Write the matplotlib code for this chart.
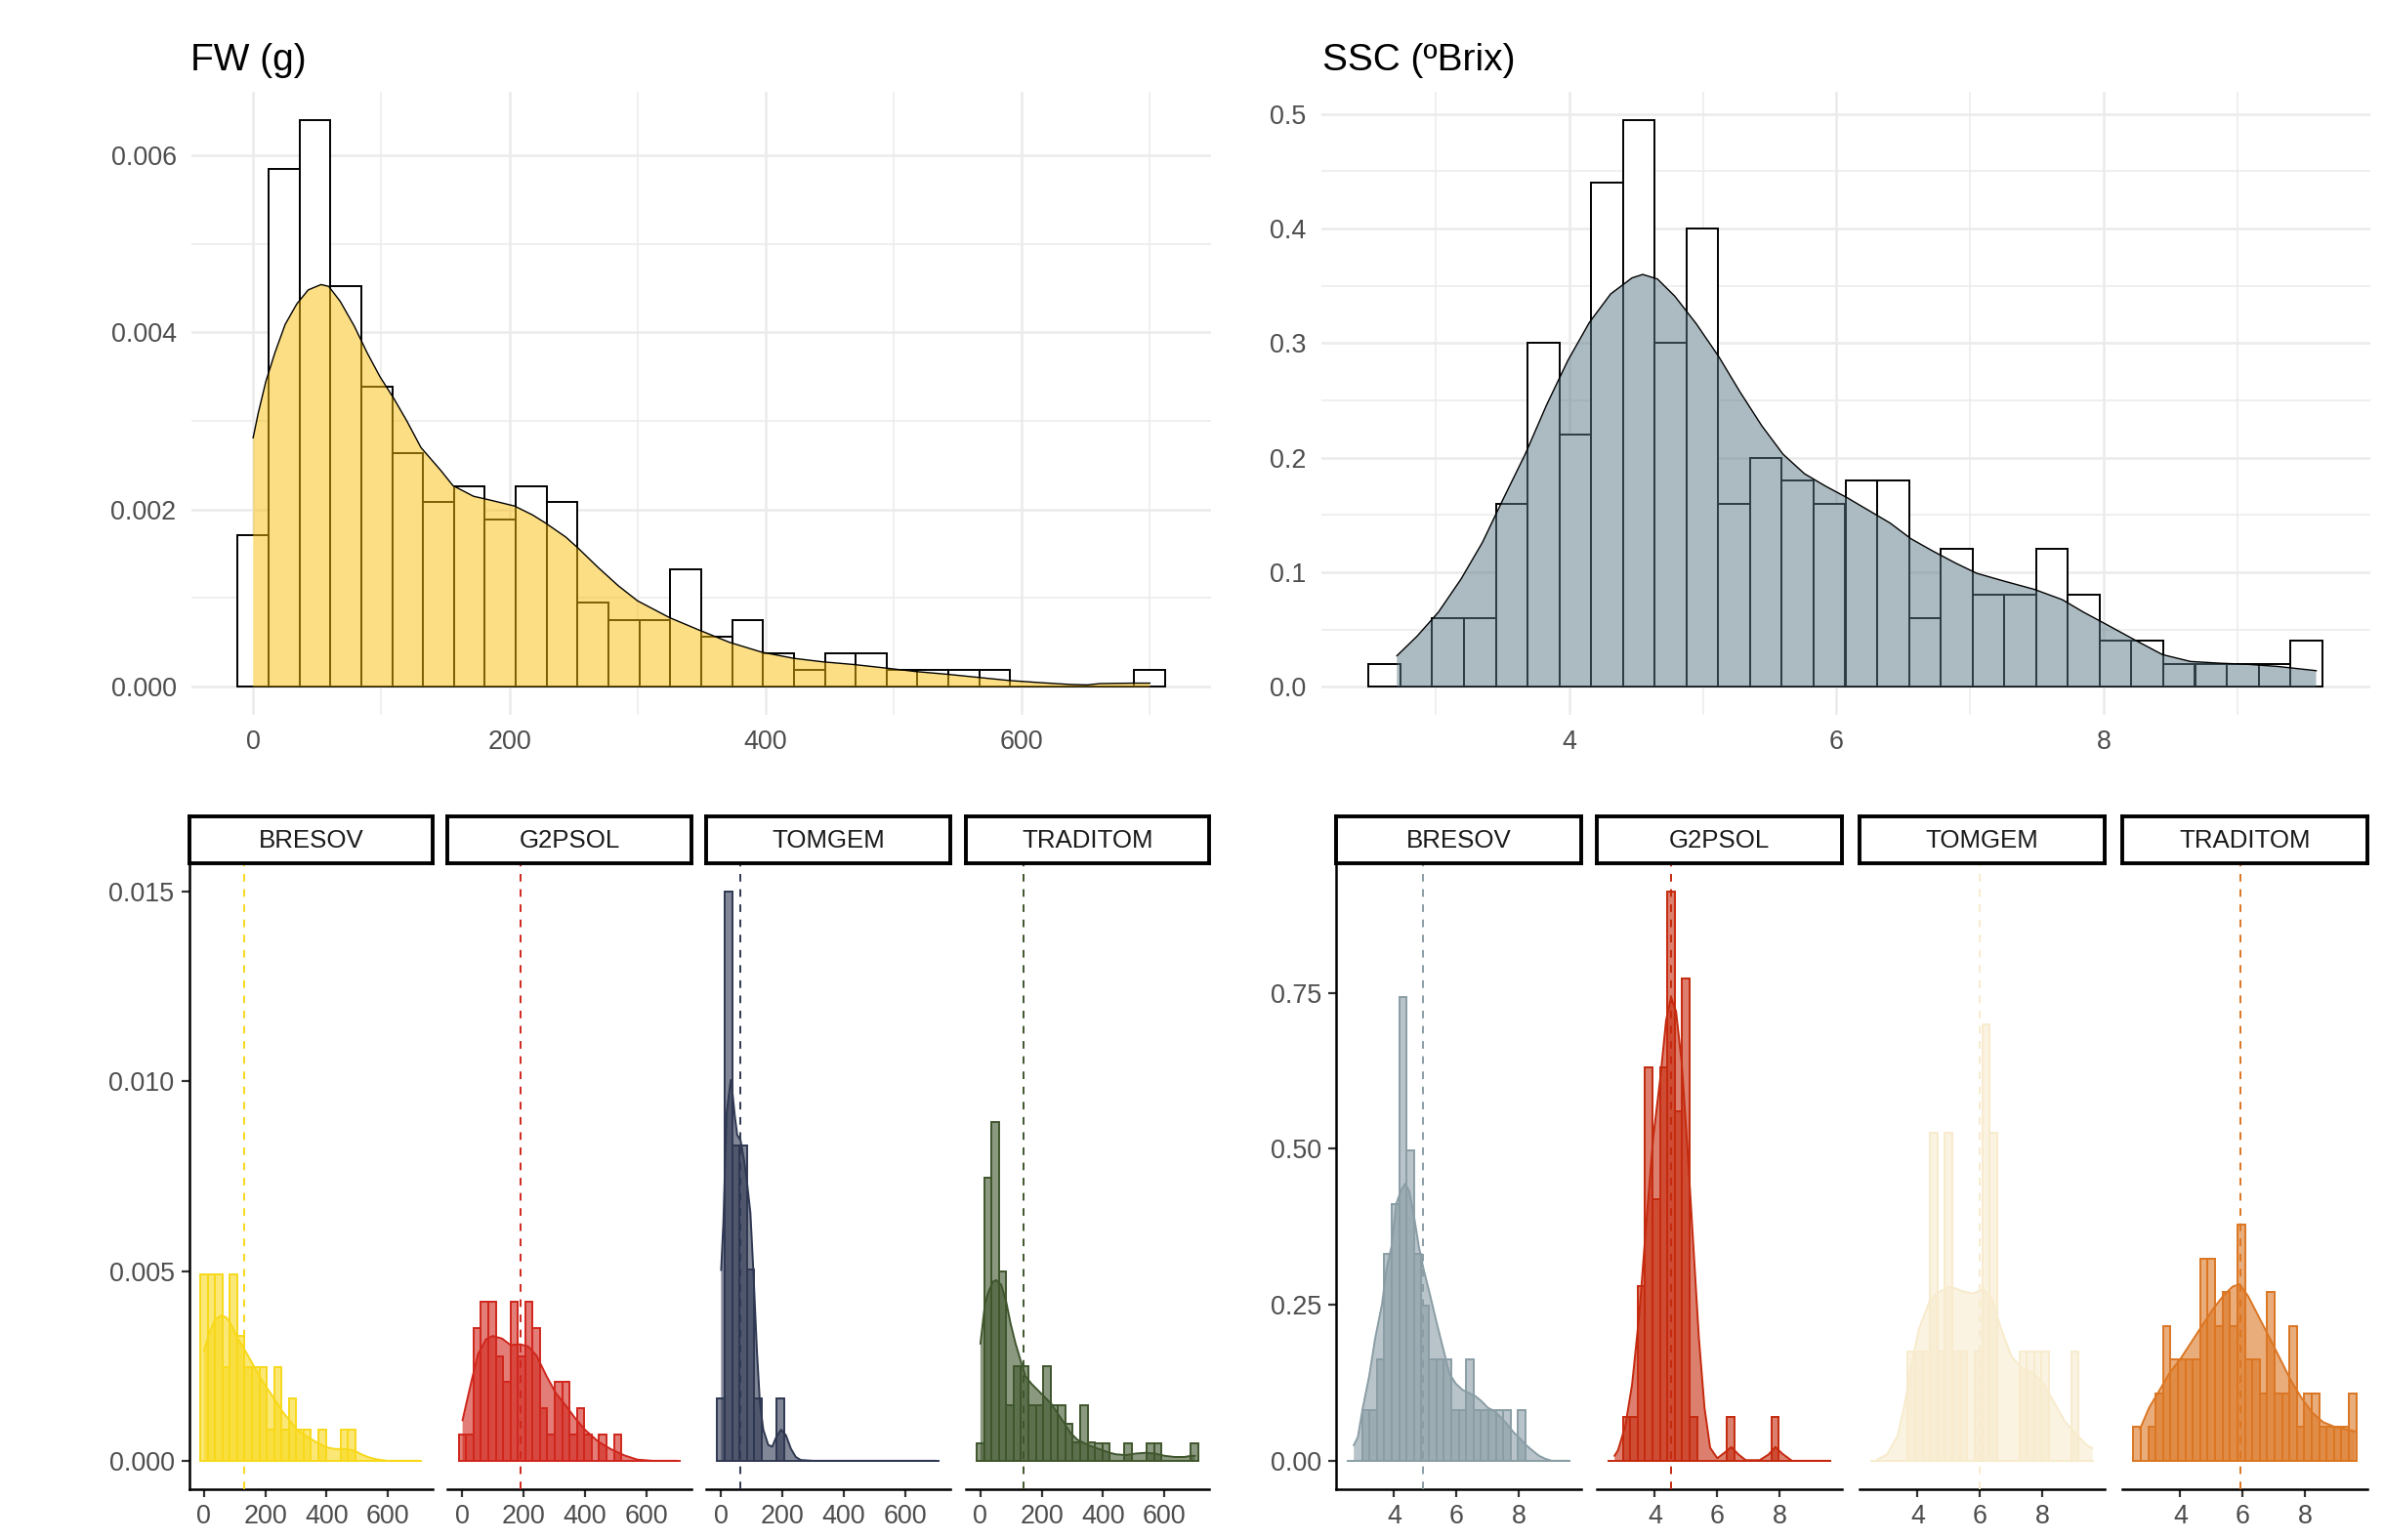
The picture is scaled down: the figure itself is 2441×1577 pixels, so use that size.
import numpy as np
import matplotlib
matplotlib.use('Agg')
import matplotlib.pyplot as plt
from matplotlib.colors import to_rgba

plt.rcParams['font.family'] = ['Liberation Sans', 'DejaVu Sans']

# ------------------------------------------------------------------ data
varieties = ['BRESOV', 'G2PSOL', 'TOMGEM', 'TRADITOM']

# bin layout (ggplot bins = 30)
fw_bin_start = -12.06
fw_bin_width = 24.12
ssc_bin_start = 2.498
ssc_bin_width = 0.2379

# ---- FW, all samples (density values x 1e-3)
fw_all_hist = [1.71, 5.85, 6.40, 4.52, 3.39, 2.64, 2.09, 2.26, 1.89, 2.26,
               2.09, 0.95, 0.75, 0.75, 1.33, 0.56, 0.75, 0.38, 0.19, 0.38,
               0.38, 0.19, 0.19, 0.19, 0.19, 0.0, 0.0, 0.0, 0.0, 0.19]
fw_all_dens_x = [0, 4, 10, 17, 25, 34, 43, 53, 59, 68, 79, 89, 99, 110, 120,
                 131, 146, 156, 172, 187, 204, 218, 228, 244, 254, 269, 285,
                 300, 325, 348, 372, 397, 422, 445, 469, 494, 518, 542, 566,
                 590, 614, 638, 651, 661, 687, 700]
fw_all_dens_y = [2.81, 3.09, 3.45, 3.77, 4.09, 4.32, 4.48, 4.54, 4.52, 4.35,
                 4.07, 3.77, 3.50, 3.25, 3.00, 2.70, 2.45, 2.27, 2.15, 2.10,
                 2.04, 1.94, 1.85, 1.69, 1.56, 1.35, 1.14, 0.97, 0.78, 0.64,
                 0.50, 0.39, 0.32, 0.28, 0.25, 0.21, 0.17, 0.14, 0.105, 0.07,
                 0.046, 0.025, 0.02, 0.035, 0.04, 0.04]

# ---- SSC, all samples
ssc_all_hist = [0.02, 0.0, 0.06, 0.06, 0.16, 0.30, 0.22, 0.44, 0.495, 0.30,
                0.40, 0.16, 0.20, 0.18, 0.16, 0.18, 0.18, 0.06, 0.12, 0.08,
                0.08, 0.12, 0.08, 0.04, 0.04, 0.02, 0.02, 0.02, 0.02, 0.04]
ssc_all_dens_x = [2.71, 2.86, 3.02, 3.19, 3.35, 3.51, 3.67, 3.83, 3.99, 4.15,
                  4.31, 4.47, 4.55, 4.66, 4.79, 4.95, 5.12, 5.28, 5.44, 5.60,
                  5.76, 5.92, 6.08, 6.24, 6.40, 6.56, 6.72, 6.89, 7.05, 7.26,
                  7.48, 7.69, 7.85, 8.01, 8.23, 8.44, 8.65, 8.87, 9.08, 9.30,
                  9.59]
ssc_all_dens_y = [0.027, 0.044, 0.065, 0.094, 0.126, 0.165, 0.203, 0.246,
                  0.285, 0.318, 0.343, 0.357, 0.360, 0.356, 0.341, 0.317,
                  0.288, 0.257, 0.228, 0.203, 0.186, 0.175, 0.165, 0.154,
                  0.143, 0.129, 0.1185, 0.108, 0.099, 0.092, 0.085, 0.076,
                  0.065, 0.055, 0.041, 0.028, 0.022, 0.0205, 0.0195, 0.0177,
                  0.014]

# ---- FW by variety (density x 1e-3)
fw_hist = {
    'BRESOV':   [4.92, 4.92, 4.92, 2.46, 4.92, 3.28, 2.46, 2.46, 2.46, 0.82,
                 2.46, 0.82, 1.64, 0.82, 0.82, 0.0, 0.82, 0.0, 0.0, 0.82,
                 0.82, 0.0, 0.0, 0.0, 0.0, 0.0, 0.0, 0.0, 0.0, 0.0],
    'G2PSOL':   [0.69, 0.69, 3.50, 4.20, 4.20, 2.76, 2.07, 4.20, 2.76, 4.20,
                 3.50, 1.38, 0.69, 2.07, 2.07, 0.69, 1.38, 0.69, 0.0, 0.69,
                 0.0, 0.69, 0.0, 0.0, 0.0, 0.0, 0.0, 0.0, 0.0, 0.0],
    'TOMGEM':   [1.65, 15.0, 8.32, 8.32, 5.03, 1.65, 0.0, 0.0, 1.65, 0.0,
                 0.0, 0.0, 0.0, 0.0, 0.0, 0.0, 0.0, 0.0, 0.0, 0.0,
                 0.0, 0.0, 0.0, 0.0, 0.0, 0.0, 0.0, 0.0, 0.0, 0.0],
    'TRADITOM': [0.47, 7.45, 8.94, 4.98, 1.46, 2.49, 2.49, 1.46, 1.46, 2.49,
                 1.46, 1.46, 0.98, 0.49, 1.46, 0.49, 0.47, 0.47, 0.0, 0.0,
                 0.47, 0.0, 0.0, 0.47, 0.47, 0.0, 0.0, 0.0, 0.0, 0.47],
}
fw_dens_x = {
    'BRESOV':   [0.5, 20, 36, 57, 73, 89, 110, 132, 153, 174, 195, 217, 238,
                 259, 280, 302, 323, 344, 365, 386, 408, 429, 450, 471, 493,
                 514, 535, 556, 578, 599, 700],
    'G2PSOL':   [0.5, 30, 51, 77, 99, 130, 157, 189, 215, 242, 274, 306, 337,
                 369, 401, 444, 486, 529, 571, 620, 700],
    'TOMGEM':   [0.5, 8, 18, 27, 32, 37, 45, 53, 64, 75, 85, 96, 106, 117,
                 127, 138, 154, 167, 180, 196, 212, 228, 244, 260, 300, 700],
    'TRADITOM': [0.5, 15, 25, 41, 52, 68, 84, 99, 115, 131, 147, 168, 189,
                 211, 232, 253, 274, 295, 316, 338, 359, 391, 422, 443, 475,
                 507, 539, 570, 602, 634, 666, 687, 700],
}
fw_dens_y = {
    'BRESOV':   [2.90, 3.42, 3.72, 3.83, 3.78, 3.59, 3.24, 2.94, 2.64, 2.34,
                 2.04, 1.79, 1.53, 1.27, 1.06, 0.84, 0.71, 0.60, 0.50, 0.41,
                 0.34, 0.31, 0.31, 0.30, 0.26, 0.17, 0.10, 0.05, 0.02, 0.0,
                 0.0],
    'G2PSOL':   [1.07, 2.11, 2.81, 3.20, 3.29, 3.22, 3.05, 3.07, 3.01, 2.77,
                 2.24, 1.77, 1.46, 1.11, 0.81, 0.50, 0.30, 0.14, 0.03, 0.0,
                 0.0],
    'TOMGEM':   [5.03, 6.33, 9.14, 9.74, 10.04, 9.74, 9.09, 8.59, 8.44, 7.94,
                 7.33, 6.53, 4.93, 2.93, 1.52, 0.82, 0.42, 0.37, 0.62, 0.82,
                 0.67, 0.32, 0.10, 0.02, 0.0, 0.0],
    'TRADITOM': [3.09, 4.12, 4.42, 4.72, 4.76, 4.64, 4.21, 3.61, 3.09, 2.66,
                 2.23, 2.02, 1.85, 1.67, 1.50, 1.24, 0.99, 0.73, 0.56, 0.47,
                 0.39, 0.30, 0.21, 0.17, 0.15, 0.19, 0.21, 0.19, 0.13, 0.10,
                 0.10, 0.13, 0.13],
}
fw_mean = {'BRESOV': 133, 'G2PSOL': 191, 'TOMGEM': 64, 'TRADITOM': 140}

# ---- SSC by variety
ssc_hist = {
    'BRESOV':   [0.0, 0.0, 0.081, 0.081, 0.163, 0.331, 0.412, 0.743, 0.497,
                 0.331, 0.249, 0.163, 0.163, 0.163, 0.081, 0.081, 0.163,
                 0.081, 0.081, 0.081, 0.081, 0.081, 0.0, 0.081, 0.0, 0.0,
                 0.0, 0.0, 0.0, 0.0],
    'G2PSOL':   [0.0, 0.0, 0.07, 0.07, 0.28, 0.63, 0.42, 0.63, 0.912, 0.56,
                 0.773, 0.07, 0.0, 0.0, 0.0, 0.0, 0.07, 0.0, 0.0, 0.0,
                 0.0, 0.0, 0.07, 0.0, 0.0, 0.0, 0.0, 0.0, 0.0, 0.0],
    'TOMGEM':   [0.0, 0.0, 0.0, 0.0, 0.0, 0.175, 0.175, 0.175, 0.525, 0.175,
                 0.525, 0.175, 0.175, 0.0, 0.175, 0.70, 0.525, 0.0, 0.0, 0.0,
                 0.175, 0.175, 0.175, 0.175, 0.0, 0.0, 0.0, 0.175, 0.0, 0.0],
    'TRADITOM': [0.054, 0.0, 0.054, 0.108, 0.216, 0.162, 0.162, 0.162, 0.162,
                 0.324, 0.324, 0.216, 0.270, 0.216, 0.378, 0.162, 0.162,
                 0.108, 0.270, 0.108, 0.108, 0.216, 0.054, 0.108, 0.108,
                 0.054, 0.054, 0.054, 0.054, 0.108],
}
ssc_dens_x = {
    'BRESOV':   [2.71, 2.84, 2.99, 3.20, 3.40, 3.61, 3.76, 3.92, 4.07, 4.22,
                 4.35, 4.48, 4.64, 4.79, 4.94, 5.15, 5.35, 5.56, 5.77, 5.97,
                 6.18, 6.38, 6.59, 6.79, 7.00, 7.20, 7.41, 7.61, 7.82, 8.02,
                 8.23, 8.44, 8.64, 8.85, 9.05, 9.60],
    'G2PSOL':   [2.71, 2.82, 3.05, 3.27, 3.50, 3.73, 3.95, 4.18, 4.36, 4.52,
                 4.68, 4.86, 5.05, 5.23, 5.41, 5.59, 5.77, 6.00, 6.23, 6.45,
                 6.68, 6.91, 7.36, 7.64, 7.86, 8.09, 8.39, 9.60],
    'TOMGEM':   [2.71, 3.02, 3.36, 3.59, 3.82, 4.05, 4.39, 4.73, 5.07, 5.42,
                 5.76, 6.10, 6.38, 6.67, 7.01, 7.35, 7.70, 8.05, 8.39, 8.73,
                 9.07, 9.42, 9.60],
    'TRADITOM': [2.71, 3.00, 3.31, 3.66, 4.00, 4.34, 4.69, 5.03, 5.37, 5.67,
                 5.90, 6.17, 6.51, 6.86, 7.20, 7.54, 7.89, 8.23, 8.57, 8.91,
                 9.26, 9.60],
}
ssc_dens_y = {
    'BRESOV':   [0.025, 0.038, 0.083, 0.135, 0.198, 0.250, 0.308, 0.344,
                 0.412, 0.433, 0.444, 0.433, 0.391, 0.344, 0.308, 0.266,
                 0.224, 0.182, 0.140, 0.124, 0.114, 0.109, 0.104, 0.096,
                 0.085, 0.080, 0.070, 0.059, 0.046, 0.036, 0.025, 0.016,
                 0.008, 0.003, 0.0, 0.0],
    'G2PSOL':   [0.008, 0.017, 0.055, 0.122, 0.234, 0.384, 0.519, 0.616,
                 0.706, 0.743, 0.720, 0.638, 0.496, 0.347, 0.197, 0.085,
                 0.021, 0.004, 0.013, 0.022, 0.010, 0.001, 0.001, 0.010,
                 0.022, 0.011, 0.0, 0.0],
    'TOMGEM':   [0.002, 0.010, 0.040, 0.092, 0.159, 0.212, 0.257, 0.272,
                 0.279, 0.272, 0.268, 0.275, 0.260, 0.212, 0.167, 0.148,
                 0.141, 0.122, 0.092, 0.062, 0.043, 0.025, 0.020],
    'TRADITOM': [0.051, 0.085, 0.111, 0.141, 0.163, 0.189, 0.216, 0.242,
                 0.264, 0.279, 0.283, 0.264, 0.231, 0.197, 0.163, 0.129,
                 0.100, 0.077, 0.062, 0.055, 0.051, 0.047],
}
ssc_mean = {'BRESOV': 4.91, 'G2PSOL': 4.52, 'TOMGEM': 6.00, 'TRADITOM': 5.94}

fw_ticks = [0, 200, 400, 600]
fw_minor = [100, 300, 500, 700]
ssc_ticks = [4, 6, 8]
ssc_minor = [3, 5, 7, 9]
fw_top_yticks = [0.000, 0.002, 0.004, 0.006]
fw_top_yminor = [0.001, 0.003, 0.005]
ssc_top_yticks = [0.0, 0.1, 0.2, 0.3, 0.4, 0.5]
ssc_top_yminor = [0.05, 0.15, 0.25, 0.35, 0.45]
fw_facet_yticks = [0.000, 0.005, 0.010, 0.015]
ssc_facet_yticks = [0.00, 0.25, 0.50, 0.75]

fw_scale = 1e-3

# ------------------------------------------------------------------ style
fw_top_fill = '#FBBF0A'
ssc_top_fill = '#5B7987'
fw_colors = {'BRESOV': '#F8D81A', 'G2PSOL': '#D0261C',
             'TOMGEM': '#2F3852', 'TRADITOM': '#3F562D'}
ssc_colors = {'BRESOV': '#8A9DA5', 'G2PSOL': '#C52A0E',
              'TOMGEM': '#F8EBCD', 'TRADITOM': '#DB7623'}
TXT = '#4D4D4D'
GRID = '#EBEBEB'
TICK_FS = 9.7

W, H = 2441, 1577
fig = plt.figure(figsize=(W / 200, H / 200), dpi=200)


def px_axes(x0, y0, x1, y1):
    return fig.add_axes([x0 / W, 1 - y1 / H, (x1 - x0) / W, (y1 - y0) / H])


def bin_limits(start, width, n):
    lo = start
    hi = start + width * n
    span = hi - lo
    return lo - 0.05 * span, hi + 0.05 * span


def top_panel(ax, start, width, hist, dx, dy, fill, xmaj, xmin, ymaj, ymin,
              fmt):
    hist = np.asarray(hist)
    edges = start + width * np.arange(len(hist))
    ax.bar(edges, hist, width=width, align='edge', facecolor='white',
           edgecolor='black', linewidth=0.7, zorder=2)
    ax.fill_between(dx, dy, 0, facecolor=fill, alpha=0.5, linewidth=0,
                    zorder=3)
    ax.plot(dx, dy, color='black', lw=0.5, zorder=4)
    ax.set_xlim(*bin_limits(start, width, len(hist)))
    ymax = max(hist.max(), max(dy))
    ax.set_ylim(-0.05 * ymax, 1.05 * ymax)
    ax.set_xticks(xmaj)
    ax.set_xticks(xmin, minor=True)
    ax.set_yticks(ymaj)
    ax.set_yticks(ymin, minor=True)
    ax.set_yticklabels([fmt % v for v in ymaj])
    ax.set_xticklabels([str(v) for v in xmaj])
    ax.grid(which='major', color=GRID, lw=0.9)
    ax.grid(which='minor', color=GRID, lw=0.55)
    ax.set_axisbelow(True)
    for s in ax.spines.values():
        s.set_visible(False)
    ax.tick_params(which='both', length=0, labelsize=TICK_FS,
                   labelcolor=TXT, pad=5.5)


# top-left FW
ax = px_axes(195.9, 93.7, 1240.0, 732.2)
top_panel(ax, fw_bin_start, fw_bin_width,
          np.asarray(fw_all_hist) * fw_scale,
          fw_all_dens_x, np.asarray(fw_all_dens_y) * fw_scale,
          fw_top_fill, fw_ticks, fw_minor, fw_top_yticks, fw_top_yminor,
          '%.3f')

# top-right SSC
ax = px_axes(1352.5, 93.7, 2426.5, 732.2)
top_panel(ax, ssc_bin_start, ssc_bin_width, ssc_all_hist,
          ssc_all_dens_x, ssc_all_dens_y, ssc_top_fill, ssc_ticks,
          ssc_minor, ssc_top_yticks, ssc_top_yminor, '%.1f')

fig.text(195 / W, 1 - 72.5 / H, 'FW (g)', fontsize=14, color='black',
         ha='left', va='baseline')
fig.text(1354 / W, 1 - 72.5 / H, 'SSC (ºBrix)', fontsize=14, color='black',
         ha='left', va='baseline')


# ------------------------------------------------------------------ facets
def facet_row(lefts, width, hists, dxs, dys, means, colors, start, bw,
              scale, xticks, yticks, yfmt):
    n = len(next(iter(hists.values())))
    xlim = bin_limits(start, bw, n)
    ymax = 0
    for v in varieties:
        ymax = max(ymax, max(hists[v]) * scale, max(dys[v]) * scale)
    ylim = (-0.05 * ymax, 1.05 * ymax)
    y_top, y_bot = 884.0, 1525.0
    strip_top = 836.0
    for i, v in enumerate(varieties):
        x0 = lefts[i]
        ax = px_axes(x0, y_top, x0 + width, y_bot)
        col = colors[v]
        h = np.asarray(hists[v]) * scale
        edges = start + bw * np.arange(len(h))
        ax.bar(edges, h, width=bw, align='edge',
               facecolor=to_rgba(col, 0.6), edgecolor=col, linewidth=0.7,
               zorder=2)
        dy = np.asarray(dys[v]) * scale
        ax.fill_between(dxs[v], dy, 0, facecolor=to_rgba(col, 0.6),
                        linewidth=0, zorder=3)
        ax.plot(dxs[v], dy, color=col, lw=0.7, zorder=4)
        ax.axvline(means[v], color=col, lw=0.7, ls=(0, (4, 4)), zorder=5)
        ax.set_xlim(*xlim)
        ax.set_ylim(*ylim)
        ax.set_xticks(xticks)
        ax.set_xticklabels([str(t) for t in xticks])
        ax.spines['top'].set_visible(False)
        ax.spines['right'].set_visible(False)
        ax.spines['bottom'].set_linewidth(0.9)
        ax.spines['left'].set_linewidth(0.9)
        if i == 0:
            ax.set_yticks(yticks)
            ax.set_yticklabels([yfmt % t for t in yticks])
        else:
            ax.spines['left'].set_visible(False)
            ax.set_yticks([])
        ax.tick_params(length=3.0, width=0.8, color='#333333',
                       labelsize=TICK_FS, labelcolor=TXT, pad=2.4)
        # strip
        sax = px_axes(x0, strip_top, x0 + width, y_top)
        sax.set_xticks([])
        sax.set_yticks([])
        for s in sax.spines.values():
            s.set_linewidth(1.4)
            s.set_color('black')
        sax.text(0.5, 0.48, v, transform=sax.transAxes, ha='center',
                 va='center', fontsize=9.3, color='#1A1A1A')


facet_row([193.6, 458.3, 723.1, 988.6], 249.8, fw_hist, fw_dens_x,
          fw_dens_y, fw_mean, fw_colors, fw_bin_start, fw_bin_width,
          fw_scale, fw_ticks, fw_facet_yticks, '%.3f')
facet_row([1368.0, 1635.0, 1904.0, 2173.0], 251.0, ssc_hist, ssc_dens_x,
          ssc_dens_y, ssc_mean, ssc_colors, ssc_bin_start, ssc_bin_width,
          1.0, ssc_ticks, ssc_facet_yticks, '%.2f')

fig.savefig('out.png', dpi=200, facecolor='white')
